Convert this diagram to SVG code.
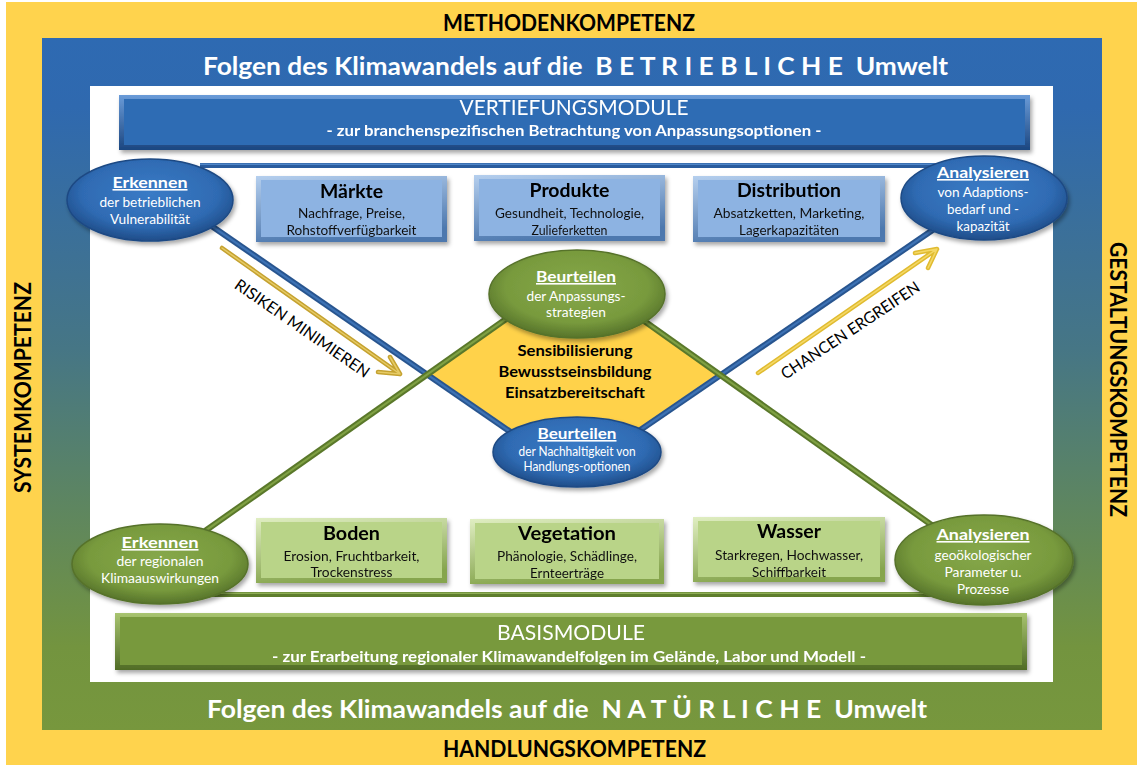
<svg xmlns="http://www.w3.org/2000/svg" width="1142" height="780" viewBox="0 0 1142 780">
<defs>
<style>
text{font-family:Lato,"Open Sans","DejaVu Sans",sans-serif;text-anchor:middle}
.k{font-weight:bold;font-size:22px;fill:#000}
.ttl{font-weight:bold;font-size:25px;fill:#fff}
.mt{font-size:21px;fill:#fff}
.ms{font-weight:bold;font-size:15px;fill:#fff}
.et{font-weight:bold;font-size:16px;fill:#fff;text-decoration:underline}
.es{font-size:14px;fill:#fff}
.bt{font-weight:bold;font-size:19px;fill:#000}
.bs{font-size:14px;fill:#111}
.dm{font-weight:bold;font-size:16px;fill:#000}
.rt{font-size:16px;fill:#000}
.be{stroke:#1E4A84;stroke-width:1.5}
.ge{stroke:#56722A;stroke-width:1.5}
</style>
<linearGradient id="frameG" x1="0" y1="38" x2="0" y2="730" gradientUnits="userSpaceOnUse">
<stop offset="0" stop-color="#2E6AB2"/>
<stop offset="0.1" stop-color="#2F69AF"/>
<stop offset="0.45" stop-color="#467685"/>
<stop offset="0.88" stop-color="#73943F"/>
<stop offset="1" stop-color="#77973D"/>
</linearGradient>
<radialGradient id="blueE" cx="0.5" cy="0.42" r="0.58">
<stop offset="0" stop-color="#3A7BC6"/>
<stop offset="0.7" stop-color="#2F6BB3"/>
<stop offset="1" stop-color="#1F4C88"/>
</radialGradient>
<radialGradient id="greenE" cx="0.5" cy="0.42" r="0.58">
<stop offset="0" stop-color="#86A84A"/>
<stop offset="0.7" stop-color="#789A3D"/>
<stop offset="1" stop-color="#56732A"/>
</radialGradient>
<linearGradient id="bevLB" x1="0" y1="0" x2="0.3" y2="1">
<stop offset="0" stop-color="#B5CFEE"/>
<stop offset="1" stop-color="#4D78AE"/>
</linearGradient>
<linearGradient id="bevLG" x1="0" y1="0" x2="0.3" y2="1">
<stop offset="0" stop-color="#E0EEC2"/>
<stop offset="1" stop-color="#86A54E"/>
</linearGradient>
<linearGradient id="bevDB" x1="0" y1="0" x2="0" y2="1">
<stop offset="0" stop-color="#6A9BD8"/>
<stop offset="1" stop-color="#1B4680"/>
</linearGradient>
<linearGradient id="bevDG" x1="0" y1="0" x2="0" y2="1">
<stop offset="0" stop-color="#A8C470"/>
<stop offset="1" stop-color="#506C26"/>
</linearGradient>
<filter id="sh" x="-10%" y="-15%" width="125%" height="145%">
<feDropShadow dx="2" dy="3" stdDeviation="2" flood-color="#000" flood-opacity="0.35"/>
</filter>
</defs>

<g id="background">
<rect x="6" y="2" width="1131" height="763" fill="#FFD34D"/>
<rect x="42" y="38" width="1060" height="692" fill="url(#frameG)"/>
<rect x="90" y="86" width="963" height="596" fill="#FFFFFF"/>
</g>

<g id="labels">
<text class="k" x="569" y="31" textLength="252" lengthAdjust="spacingAndGlyphs">METHODENKOMPETENZ</text>
<text class="k" x="574.5" y="757" textLength="263" lengthAdjust="spacingAndGlyphs">HANDLUNGSKOMPETENZ</text>
<text class="k" transform="translate(31,387.5) rotate(-90)" x="0" y="0" textLength="211" lengthAdjust="spacingAndGlyphs">SYSTEMKOMPETENZ</text>
<text class="k" transform="translate(1110,379.5) rotate(90)" x="0" y="0" textLength="275" lengthAdjust="spacingAndGlyphs">GESTALTUNGSKOMPETENZ</text>
<text class="ttl" x="575.5" y="75" textLength="745" lengthAdjust="spacingAndGlyphs" xml:space="preserve">Folgen des Klimawandels auf die  B E T R I E B L I C H E  Umwelt</text>
<text class="ttl" x="567" y="718" textLength="720" lengthAdjust="spacingAndGlyphs" xml:space="preserve">Folgen des Klimawandels auf die  N A T Ü R L I C H E  Umwelt</text>
</g>

<g id="vertiefungsmodule" filter="url(#sh)">
<rect x="119" y="95" width="911" height="55" fill="url(#bevDB)"/>
<rect x="124" y="99" width="901" height="46" fill="#2F6CB4"/>
<text class="mt" x="574" y="115" textLength="229" lengthAdjust="spacingAndGlyphs">VERTIEFUNGSMODULE</text>
<text class="ms" x="574" y="136" textLength="495" lengthAdjust="spacingAndGlyphs">- zur branchenspezifischen Betrachtung von Anpassungsoptionen -</text>
</g>

<g id="basismodule" filter="url(#sh)">
<rect x="115" y="613" width="912" height="57" fill="url(#bevDG)"/>
<rect x="120" y="617" width="902" height="48" fill="#78993D"/>
<text class="mt" x="571" y="640" textLength="148" lengthAdjust="spacingAndGlyphs">BASISMODULE</text>
<text class="ms" x="569" y="662" textLength="594" lengthAdjust="spacingAndGlyphs">- zur Erarbeitung regionaler Klimawandelfolgen im Gelände, Labor und Modell -</text>
</g>

<g id="diamond">
<polygon points="426,375 577,270 721,375 577,477" fill="#FFD24A"/>
</g>

<g id="connectors">
<rect x="200" y="163" width="760" height="5" fill="#2A5C9E"/>
<rect x="200" y="163.5" width="760" height="1.5" fill="#4F86C8"/>
<rect x="205" y="592" width="745" height="5" fill="#5F7E2D"/>
<rect x="205" y="592.5" width="745" height="1.5" fill="#8EAE55"/>
<g fill="none" stroke-linecap="butt">
<path d="M200,218 L560,466" stroke="#28558F" stroke-width="6"/>
<path d="M200,218 L560,466" stroke="#3D72B4" stroke-width="2.2"/>
<path d="M940,225 L595,461" stroke="#28558F" stroke-width="6"/>
<path d="M940,225 L595,461" stroke="#3D72B4" stroke-width="2.2"/>
<path d="M205,531 L560,281" stroke="#5A782A" stroke-width="6"/>
<path d="M205,531 L560,281" stroke="#7FA043" stroke-width="2.2"/>
<path d="M595,286 L940,531" stroke="#5A782A" stroke-width="6"/>
<path d="M595,286 L940,531" stroke="#7FA043" stroke-width="2.2"/>
</g>
<g fill="none" stroke-linecap="round" stroke-linejoin="round">
<path d="M222,248 L400,374 M390,357 L400,374 L378,372" stroke="#C5A230" stroke-width="4.5"/>
<path d="M222,248 L400,374 M390,357 L400,374 L378,372" stroke="#E6CB66" stroke-width="1.5"/>
<path d="M758,373 L937,249 M915,253 L937,249 L928,268" stroke="#E0BB30" stroke-width="4.5"/>
<path d="M758,373 L937,249 M915,253 L937,249 L928,268" stroke="#F4D866" stroke-width="1.5"/>
</g>
<text class="rt" transform="translate(302.5,328) rotate(34.7)" x="0" y="6" textLength="160" lengthAdjust="spacingAndGlyphs">RISIKEN MINIMIEREN</text>
<text class="rt" transform="translate(850,330) rotate(-33.6)" x="0" y="6" textLength="163" lengthAdjust="spacingAndGlyphs">CHANCEN ERGREIFEN</text>
</g>

<g id="maerkte" filter="url(#sh)">
<rect x="256" y="176" width="191" height="66" fill="url(#bevLB)"/>
<rect x="261" y="180" width="181" height="57" fill="#8DB3E2"/>
<text class="bt" x="351.5" y="198" textLength="63" lengthAdjust="spacingAndGlyphs">Märkte</text>
<text class="bs" x="351.5" y="218" textLength="107" lengthAdjust="spacingAndGlyphs">Nachfrage, Preise,</text>
<text class="bs" x="351.5" y="235" textLength="130" lengthAdjust="spacingAndGlyphs">Rohstoffverfügbarkeit</text>
</g>
<g id="produkte" filter="url(#sh)">
<rect x="474" y="175" width="191" height="66" fill="url(#bevLB)"/>
<rect x="479" y="179" width="181" height="57" fill="#8DB3E2"/>
<text class="bt" x="569.5" y="197" textLength="80" lengthAdjust="spacingAndGlyphs">Produkte</text>
<text class="bs" x="569.5" y="218" textLength="149" lengthAdjust="spacingAndGlyphs">Gesundheit, Technologie,</text>
<text class="bs" x="569.5" y="235" textLength="76" lengthAdjust="spacingAndGlyphs">Zulieferketten</text>
</g>
<g id="distribution" filter="url(#sh)">
<rect x="693" y="176" width="192" height="66" fill="url(#bevLB)"/>
<rect x="698" y="180" width="182" height="57" fill="#8DB3E2"/>
<text class="bt" x="789" y="197" textLength="104" lengthAdjust="spacingAndGlyphs">Distribution</text>
<text class="bs" x="789" y="218" textLength="151" lengthAdjust="spacingAndGlyphs">Absatzketten, Marketing,</text>
<text class="bs" x="789" y="235" textLength="100" lengthAdjust="spacingAndGlyphs">Lagerkapazitäten</text>
</g>

<g id="boden" filter="url(#sh)">
<rect x="256" y="518" width="191" height="65" fill="url(#bevLG)"/>
<rect x="261" y="522" width="181" height="56" fill="#B9D488"/>
<text class="bt" x="351.5" y="540" textLength="57" lengthAdjust="spacingAndGlyphs">Boden</text>
<text class="bs" x="351.5" y="561" textLength="136" lengthAdjust="spacingAndGlyphs">Erosion, Fruchtbarkeit,</text>
<text class="bs" x="351.5" y="577" textLength="82" lengthAdjust="spacingAndGlyphs">Trockenstress</text>
</g>
<g id="vegetation" filter="url(#sh)">
<rect x="470" y="519" width="194" height="65" fill="url(#bevLG)"/>
<rect x="475" y="523" width="184" height="56" fill="#B9D488"/>
<text class="bt" x="567" y="540" textLength="98" lengthAdjust="spacingAndGlyphs">Vegetation</text>
<text class="bs" x="567" y="561" textLength="140" lengthAdjust="spacingAndGlyphs">Phänologie, Schädlinge,</text>
<text class="bs" x="567" y="578" textLength="74" lengthAdjust="spacingAndGlyphs">Ernteerträge</text>
</g>
<g id="wasser" filter="url(#sh)">
<rect x="693" y="517" width="192" height="65" fill="url(#bevLG)"/>
<rect x="698" y="521" width="182" height="56" fill="#B9D488"/>
<text class="bt" x="789" y="538" textLength="64" lengthAdjust="spacingAndGlyphs">Wasser</text>
<text class="bs" x="789" y="560" textLength="148" lengthAdjust="spacingAndGlyphs">Starkregen, Hochwasser,</text>
<text class="bs" x="789" y="577" textLength="74" lengthAdjust="spacingAndGlyphs">Schiffbarkeit</text>
</g>

<g id="diamond-text">
<text class="dm" x="575" y="356" textLength="115" lengthAdjust="spacingAndGlyphs">Sensibilisierung</text>
<text class="dm" x="575" y="377" textLength="153" lengthAdjust="spacingAndGlyphs">Bewusstseinsbildung</text>
<text class="dm" x="575" y="398" textLength="140" lengthAdjust="spacingAndGlyphs">Einsatzbereitschaft</text>
</g>

<g id="erkennen-betrieblich">
<ellipse cx="150" cy="200" rx="83" ry="41" fill="url(#blueE)" class="be" filter="url(#sh)"/>
<text class="et" x="150" y="188" textLength="75" lengthAdjust="spacingAndGlyphs">Erkennen</text>
<text class="es" x="150" y="207" textLength="101" lengthAdjust="spacingAndGlyphs">der betrieblichen</text>
<text class="es" x="150" y="224" textLength="80" lengthAdjust="spacingAndGlyphs">Vulnerabilität</text>
</g>
<g id="analysieren-adaption">
<ellipse cx="984" cy="198" rx="83" ry="42" fill="url(#blueE)" class="be" filter="url(#sh)"/>
<text class="et" x="983" y="178" textLength="92" lengthAdjust="spacingAndGlyphs">Analysieren</text>
<text class="es" x="983" y="197" textLength="91" lengthAdjust="spacingAndGlyphs">von Adaptions-</text>
<text class="es" x="983" y="214" textLength="72" lengthAdjust="spacingAndGlyphs">bedarf und -</text>
<text class="es" x="983" y="231" textLength="53" lengthAdjust="spacingAndGlyphs">kapazität</text>
</g>
<g id="beurteilen-strategien">
<ellipse cx="577" cy="294" rx="88" ry="44" fill="url(#greenE)" class="ge" filter="url(#sh)"/>
<text class="et" x="576" y="282" textLength="80" lengthAdjust="spacingAndGlyphs">Beurteilen</text>
<text class="es" x="576" y="301" textLength="99" lengthAdjust="spacingAndGlyphs">der Anpassungs-</text>
<text class="es" x="576" y="317" textLength="60" lengthAdjust="spacingAndGlyphs">strategien</text>
</g>
<g id="beurteilen-nachhaltigkeit">
<ellipse cx="577" cy="452" rx="84" ry="35" fill="url(#blueE)" class="be" filter="url(#sh)"/>
<text class="et" x="577" y="439" textLength="79" lengthAdjust="spacingAndGlyphs">Beurteilen</text>
<text class="es" x="577" y="456" textLength="117" lengthAdjust="spacingAndGlyphs" style="font-size:12.5px">der Nachhaltigkeit von</text>
<text class="es" x="577" y="471" textLength="107" lengthAdjust="spacingAndGlyphs" style="font-size:12.5px">Handlungs-optionen</text>
</g>
<g id="erkennen-regional">
<ellipse cx="160" cy="564" rx="88" ry="40" fill="url(#greenE)" class="ge" filter="url(#sh)"/>
<text class="et" x="160" y="548" textLength="77" lengthAdjust="spacingAndGlyphs">Erkennen</text>
<text class="es" x="160" y="566" textLength="87" lengthAdjust="spacingAndGlyphs">der regionalen</text>
<text class="es" x="160" y="583" textLength="118" lengthAdjust="spacingAndGlyphs">Klimaauswirkungen</text>
</g>
<g id="analysieren-geooekologisch">
<ellipse cx="984" cy="560" rx="89" ry="45" fill="url(#greenE)" class="ge" filter="url(#sh)"/>
<text class="et" x="983" y="540" textLength="93" lengthAdjust="spacingAndGlyphs">Analysieren</text>
<text class="es" x="983" y="560" textLength="97" lengthAdjust="spacingAndGlyphs">geoökologischer</text>
<text class="es" x="983" y="577" textLength="77" lengthAdjust="spacingAndGlyphs">Parameter u.</text>
<text class="es" x="983" y="594" textLength="52" lengthAdjust="spacingAndGlyphs">Prozesse</text>
</g>
</svg>
